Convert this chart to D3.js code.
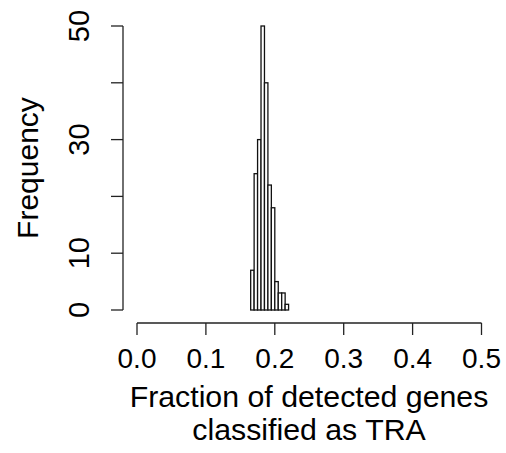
<!DOCTYPE html>
<html>
<head>
<meta charset="utf-8">
<script src="https://cdn.jsdelivr.net/npm/d3@7"></script>
<style>
  body { margin: 0; background: #fff; }
  svg text { font-family: "Liberation Sans", Arial, Helvetica, sans-serif; fill: #000; }
</style>
</head>
<body>
<svg id="chart" width="506" height="453"></svg>
<script>
// Histogram bins (fraction of detected genes classified as TRA)
var binStarts = [0.165, 0.170, 0.175, 0.180, 0.185, 0.190, 0.195, 0.200, 0.205, 0.210, 0.215];
var binWidth = 0.005;
var counts = [7, 24, 30, 50, 40, 22, 18, 5, 3, 3, 1];

// Axis ticks
var xTicks = [0.0, 0.1, 0.2, 0.3, 0.4, 0.5];
var yTicks = [0, 10, 20, 30, 40, 50];
var yTickLabels = [0, 10, 30, 50]; // R drops the labels that would overlap

var svg = d3.select("#chart");

// Scales
var x = d3.scaleLinear().domain([0, 0.5]).range([137, 481.5]);
var y = d3.scaleLinear().domain([0, 50]).range([310, 26]);

// Bars
svg.append("g")
    .selectAll("rect")
    .data(counts)
    .enter().append("rect")
    .attr("x", (d, i) => x(binStarts[i]))
    .attr("width", (d, i) => x(binStarts[i] + binWidth) - x(binStarts[i]))
    .attr("y", d => y(d))
    .attr("height", d => y(0) - y(d))
    .attr("fill", "#fff")
    .attr("stroke", "#111")
    .attr("stroke-width", 1.3);

// X axis
var xAxis = svg.append("g").attr("transform", "translate(0,323)");
xAxis.append("line")
    .attr("x1", x(0)).attr("x2", x(0.5))
    .attr("stroke", "#222").attr("stroke-width", 1.3);
xAxis.selectAll(".tick")
    .data(xTicks)
    .enter().append("line")
    .attr("x1", d => x(d)).attr("x2", d => x(d))
    .attr("y1", 0).attr("y2", 12)
    .attr("stroke", "#222").attr("stroke-width", 1.3);
xAxis.selectAll(".lab")
    .data(xTicks)
    .enter().append("text")
    .attr("x", d => x(d))
    .attr("y", 45)
    .attr("text-anchor", "middle")
    .attr("font-size", 28)
    .text(d => d3.format(".1f")(d));

// Y axis
var yAxis = svg.append("g").attr("transform", "translate(123,0)");
yAxis.append("line")
    .attr("y1", y(0)).attr("y2", y(50))
    .attr("stroke", "#222").attr("stroke-width", 1.3);
yAxis.selectAll(".tick")
    .data(yTicks)
    .enter().append("line")
    .attr("y1", d => y(d)).attr("y2", d => y(d))
    .attr("x1", 0).attr("x2", -12)
    .attr("stroke", "#222").attr("stroke-width", 1.3);
yAxis.selectAll(".lab")
    .data(yTickLabels)
    .enter().append("text")
    .attr("transform", d => "translate(-34," + y(d) + ") rotate(-90)")
    .attr("text-anchor", "middle")
    .attr("font-size", 29)
    .text(d => d);

// Axis titles
svg.append("text")
    .attr("transform", "translate(38,168) rotate(-90)")
    .attr("text-anchor", "middle")
    .attr("font-size", 30)
    .text("Frequency");

svg.append("text")
    .attr("x", 309)
    .attr("y", 407)
    .attr("text-anchor", "middle")
    .attr("font-size", 30.3)
    .text("Fraction of detected genes");

svg.append("text")
    .attr("x", 309)
    .attr("y", 440)
    .attr("text-anchor", "middle")
    .attr("font-size", 30.3)
    .text("classified as TRA");
</script>
</body>
</html>
